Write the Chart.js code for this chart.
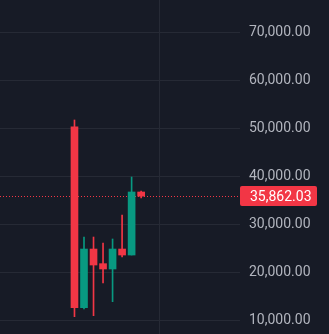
<!DOCTYPE html>
<html>
<head>
<meta charset="utf-8">
<script src="https://cdn.jsdelivr.net/npm/chart.js@4"></script>
<style>
  html, body { margin: 0; padding: 0; background: #171b26; }
  #wrap { position: relative; width: 329px; height: 334px; }
</style>
</head>
<body>
<div id="wrap"><canvas id="chart"></canvas></div>
<script>
// Candle data (index on x, price on y)
const candleIdx = [0, 1, 2, 3, 4, 5, 6, 7];
const opens  = [50330, 12630, 24850, 21800, 20690, 24850, 23600, 36730];
const closes = [12630, 24850, 21520, 20690, 24850, 23600, 36730, 35862.03];
const highs  = [51730, 27350, 27350, 26100, 26940, 31940, 39850, 36940];
const lows   = [10750, 12350, 10960, 17770, 13880, 23190, 23600, 35480];

const priceTicks = [10000, 20000, 30000, 40000, 50000, 60000, 70000];
const timeGrid = [8.88];
const lastPrice = 35862.03;

const UP = '#089981';
const DOWN = '#f23645';
const colors = candleIdx.map(i => closes[i] >= opens[i] ? UP : DOWN);

const fmt = v => v.toLocaleString('en-US', { minimumFractionDigits: 2, maximumFractionDigits: 2 });

// Linia harga terakhir + label di sumbu kanan
const lastPricePlugin = {
    id: 'lastPrice',
    beforeDatasetsDraw(chart) {
        const { ctx, chartArea, scales } = chart;
        const y = Math.round(scales.y.getPixelForValue(lastPrice)) + 0.5;
        ctx.save();
        ctx.strokeStyle = DOWN;
        ctx.lineWidth = 1;
        ctx.setLineDash([1, 2]);
        ctx.beginPath();
        ctx.moveTo(chartArea.left, y);
        ctx.lineTo(chartArea.right, y);
        ctx.stroke();
        ctx.restore();
    },
    afterDraw(chart) {
        const { ctx, chartArea, scales } = chart;
        const y = Math.round(scales.y.getPixelForValue(lastPrice));
        const x0 = chartArea.right;
        ctx.save();
        ctx.fillStyle = DOWN;
        ctx.beginPath();
        ctx.roundRect(x0, y - 10, 77, 20, 2);
        ctx.fill();
        ctx.fillStyle = '#ffffff';
        ctx.font = '14px Roboto';
        ctx.textBaseline = 'middle';
        ctx.fillText(fmt(lastPrice), x0 + 10, y + 1);
        ctx.restore();
    }
};

new Chart(document.getElementById('chart').getContext('2d'), {
    type: 'bar',
    data: {
        datasets: [
            {
                label: 'body',
                data: candleIdx.map(i => ({ x: i, y: [opens[i], closes[i]] })),
                backgroundColor: colors,
                borderWidth: 0,
                barThickness: 7,
                order: 0
            },
            {
                label: 'wick',
                data: candleIdx.map(i => ({ x: i, y: [lows[i], highs[i]] })),
                backgroundColor: colors,
                borderWidth: 0,
                barThickness: 1,
                order: 1
            }
        ]
    },
    options: {
        responsive: true,
        maintainAspectRatio: false,
        animation: false,
        layout: { padding: 0 },
        datasets: { bar: { grouped: false } },
        plugins: { legend: { display: false }, tooltip: { enabled: false } },
        scales: {
            x: {
                type: 'linear',
                offset: false,
                min: -7.82,
                max: 17.38,
                afterBuildTicks: axis => { axis.ticks = timeGrid.map(v => ({ value: v })); },
                ticks: { display: false },
                grid: { color: '#262a35', drawTicks: false, offset: false },
                border: { display: false }
            },
            y: {
                position: 'right',
                min: 7146,
                max: 76729,
                afterBuildTicks: axis => { axis.ticks = priceTicks.map(v => ({ value: v })); },
                afterFit: axis => {
                    axis.width = 89;
                    axis.paddingTop = 0;
                    axis.paddingBottom = 0;
                },
                ticks: {
                    color: '#b2b5be',
                    padding: 9,
                    font: { family: 'Roboto', size: 14 },
                    callback: v => fmt(v)
                },
                grid: { color: '#262a35', drawTicks: false },
                border: { display: false }
            }
        }
    },
    plugins: [lastPricePlugin]
});
</script>
</body>
</html>
